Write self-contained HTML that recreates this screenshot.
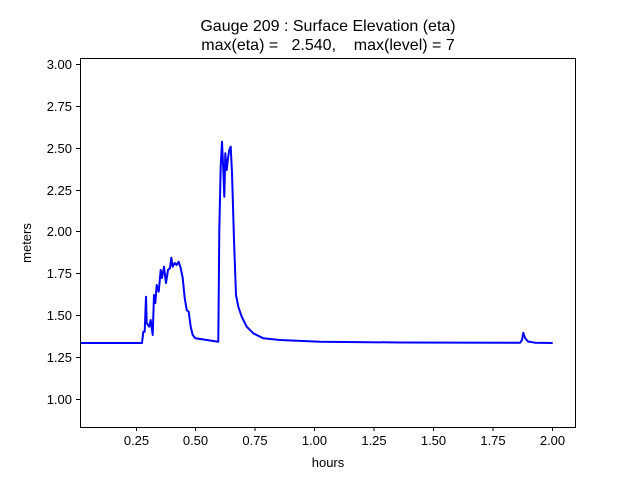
<!DOCTYPE html>
<html><head><meta charset="utf-8"><style>body{margin:0;background:#fff}</style></head><body>
<svg width="640" height="480" xmlns="http://www.w3.org/2000/svg" font-family="Liberation Sans, DejaVu Sans, sans-serif">
<rect width="640" height="480" fill="#fff"/>
<text x="328" y="31" font-size="16" text-anchor="middle">Gauge 209 : Surface Elevation (eta)</text>
<text x="328" y="50" font-size="16" text-anchor="middle" xml:space="preserve">max(eta) =   2.540,    max(level) = 7</text>
<polyline fill="none" stroke="#0000ff" stroke-width="2" stroke-linejoin="round" points="80,343 142,343 143.3,331.7 144.7,331.7 146,296.7 146.7,323 149.3,326.7 150.7,320 152.7,335 154,295 155.3,303 156.7,285 158.7,291.7 160.7,270 162,278 164,266.7 166,283 168,270 170,268 171.3,257.7 172.7,266.7 174.7,263 176.7,265 178.7,261.7 180.7,268 182.7,278 184.7,298 186.7,310 188.7,311.7 190.7,326.7 192.7,335 195.3,338.3 218.3,341.7 219.3,230 220.7,166.7 222,141.7 223.3,170 224.3,196.7 225.3,153.3 226.7,170 228,158.3 229.3,150 230.7,146.7 232,173 234,240 236,295 238.3,306.7 241.7,316.7 246.7,326.7 253.3,333.3 263.3,338.3 280,340 320,341.7 400,342.5 520,342.8 522,340 523.3,332.7 525,338 528,341.5 535,342.7 552.7,343"/>
<rect x="80.5" y="58.5" width="495" height="369" fill="none" stroke="#000" stroke-width="1"/>
<g stroke="#000" stroke-width="1">
<line x1="136.5" y1="427" x2="136.5" y2="431"/><line x1="195.5" y1="427" x2="195.5" y2="431"/><line x1="255" y1="427" x2="255" y2="431"/><line x1="314.5" y1="427" x2="314.5" y2="431"/><line x1="374" y1="427" x2="374" y2="431"/><line x1="433.5" y1="427" x2="433.5" y2="431"/><line x1="493" y1="427" x2="493" y2="431"/><line x1="552.5" y1="427" x2="552.5" y2="431"/>
<line x1="76" y1="64.5" x2="80" y2="64.5"/><line x1="76" y1="106.5" x2="80" y2="106.5"/><line x1="76" y1="148.5" x2="80" y2="148.5"/><line x1="76" y1="190.5" x2="80" y2="190.5"/><line x1="76" y1="231.5" x2="80" y2="231.5"/><line x1="76" y1="273.5" x2="80" y2="273.5"/><line x1="76" y1="315.5" x2="80" y2="315.5"/><line x1="76" y1="357.5" x2="80" y2="357.5"/><line x1="76" y1="399.5" x2="80" y2="399.5"/>
</g>
<g font-size="13" text-anchor="middle">
<text x="136.5" y="445">0.25</text><text x="195.5" y="445">0.50</text><text x="255" y="445">0.75</text><text x="314.5" y="445">1.00</text><text x="374" y="445">1.25</text><text x="433.5" y="445">1.50</text><text x="493" y="445">1.75</text><text x="552.5" y="445">2.00</text>
</g>
<g font-size="13" text-anchor="end">
<text x="72" y="69">3.00</text><text x="72" y="111">2.75</text><text x="72" y="153">2.50</text><text x="72" y="195">2.25</text><text x="72" y="236">2.00</text><text x="72" y="278">1.75</text><text x="72" y="320">1.50</text><text x="72" y="362">1.25</text><text x="72" y="404">1.00</text>
</g>
<text x="328" y="467" font-size="13" text-anchor="middle">hours</text>
<text transform="translate(31,243) rotate(-90)" font-size="13" text-anchor="middle">meters</text>
</svg>
</body></html>
